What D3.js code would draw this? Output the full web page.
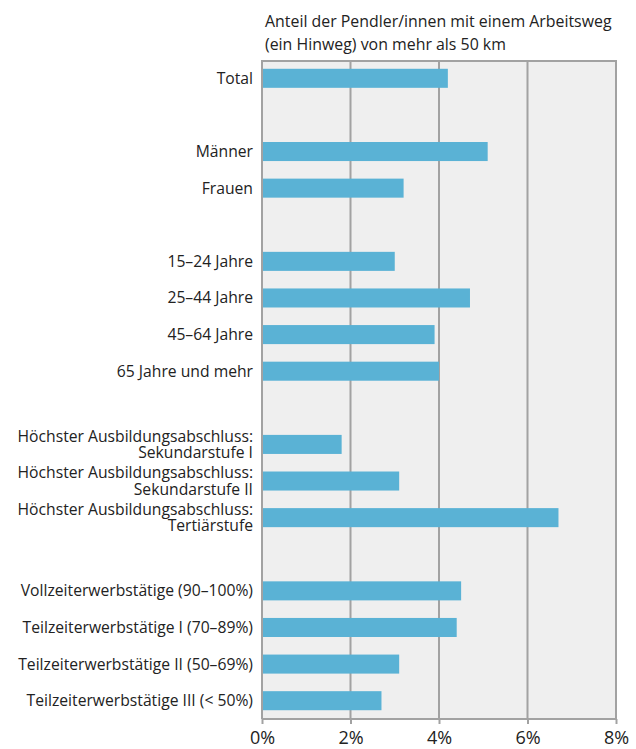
<!DOCTYPE html>
<html><head><meta charset="utf-8">
<script src="https://cdn.jsdelivr.net/npm/d3@7"></script>
<style>body{margin:0;background:#fff;} svg{display:block;}</style>
</head><body>
<script>
const categories = ["Total","","Männer","Frauen"," ","15–24 Jahre","25–44 Jahre","45–64 Jahre","65 Jahre und mehr","  ",
  "Höchster Ausbildungsabschluss:\nSekundarstufe I","Höchster Ausbildungsabschluss:\nSekundarstufe II","Höchster Ausbildungsabschluss:\nTertiärstufe","   ",
  "Vollzeiterwerbstätige (90–100%)","Teilzeiterwerbstätige I (70–89%)","Teilzeiterwerbstätige II (50–69%)","Teilzeiterwerbstätige III (< 50%)"];
const values = [4.2,null,5.1,3.2,null,3.0,4.7,3.9,4.0,null,1.8,3.1,6.7,null,4.5,4.4,3.1,2.7];
const tickValues = [0,2,4,6,8];
const titleLines = ["Anteil der Pendler/innen mit einem Arbeitsweg","(ein Hinweg) von mehr als 50 km"];

const W=636,H=749, mL=262, mR=616, mT=60, mB=719;
const font = "'Open Sans', Lato, sans-serif";
const svg = d3.select("body").append("svg").attr("width",W).attr("height",H);
const x = d3.scaleLinear().domain([0,8]).range([mL,mR]);
const y = d3.scaleBand().domain(categories).range([mT,mB]).paddingInner(0.48).paddingOuter(0.24);

svg.append("rect").attr("x",mL).attr("y",mT).attr("width",mR-mL).attr("height",mB-mT).attr("fill","#efefef");
svg.append("g").selectAll("line").data(tickValues.slice(1)).join("line")
  .attr("x1",d=>x(d)).attr("x2",d=>x(d)).attr("y1",mT).attr("y2",mB)
  .attr("stroke","#a2a2a2").attr("stroke-width",2);
svg.append("line").attr("x1",mL).attr("x2",mR).attr("y1",mT+1).attr("y2",mT+1).attr("stroke","#a2a2a2").attr("stroke-width",2);

svg.append("g").selectAll("rect").data(categories.map((c,i)=>({c,v:values[i]})).filter(d=>d.v!=null)).join("rect")
  .attr("x",x(0)).attr("y",d=>y(d.c)).attr("width",d=>x(d.v)-x(0)).attr("height",y.bandwidth()).attr("fill","#5ab2d5");

svg.append("line").attr("x1",mL).attr("x2",mL).attr("y1",mT).attr("y2",mB).attr("stroke","#a2a2a2").attr("stroke-width",2);

const ax = svg.append("g").attr("transform",`translate(0,${mB})`)
  .call(d3.axisBottom(x).tickValues(tickValues).tickFormat(d=>d+"%").tickSize(5).tickPadding(7));
ax.select(".domain").attr("stroke","#a2a2a2").attr("stroke-width",2).attr("d",`M${mL},0H${mR}`);
ax.selectAll(".tick line").attr("stroke","#a2a2a2").attr("stroke-width",2);
ax.selectAll(".tick text").attr("font-family",font).attr("font-size",18).attr("fill","#222");

const lab = svg.append("g").selectAll("text").data(categories.filter((c,i)=>values[i]!=null)).join("text")
  .attr("text-anchor","end").attr("font-family",font).attr("font-size",15.7).attr("fill","#222");
lab.each(function(d){
  const lines=d.split("\n"); const cy=y(d)+y.bandwidth()/2; const lh=16.5;
  const t=d3.select(this);
  lines.forEach((l,k)=>{
    t.append("tspan").attr("x",253).attr("y",cy+5.5+(k-(lines.length-1)/2)*lh).text(l);
  });
});

svg.append("g").selectAll("text").data(titleLines).join("text")
  .attr("x",265).attr("y",(d,i)=>27+i*23).attr("font-family",font).attr("font-size",15.9).attr("fill","#222").text(d=>d);
</script>
</body></html>
